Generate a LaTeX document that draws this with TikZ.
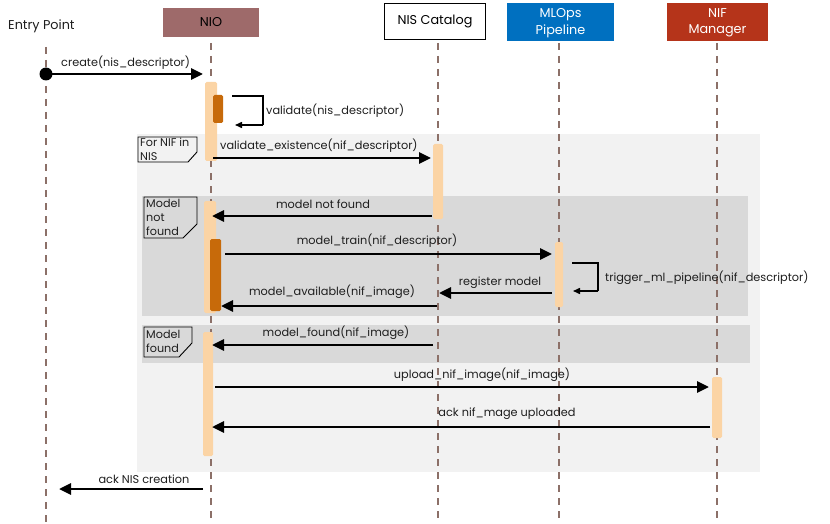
\documentclass[tikz,border=0pt]{standalone}
\usepackage{fontspec}
\setmainfont{Poppins}
\usetikzlibrary{arrows.meta}
\definecolor{nio}{RGB}{158,106,106}
\definecolor{mlops}{RGB}{0,112,192}
\definecolor{nif}{RGB}{181,52,26}
\definecolor{life}{RGB}{140,112,104}
\definecolor{actl}{RGB}{251,212,165}
\definecolor{actd}{RGB}{199,106,10}
\definecolor{loopbg}{RGB}{242,242,242}
\definecolor{altbg}{RGB}{217,217,217}
\definecolor{txt}{RGB}{30,30,30}
\tikzset{
  lifeline/.style={draw=life, line width=1.4pt, dash pattern=on 7pt off 6pt},
  head/.style={minimum height=29pt, inner sep=0pt, font=\fontsize{12.8}{16.5}\selectfont, align=center},
  actlight/.style={fill=actl, rounded corners=1.5pt},
  actdark/.style={fill=actd, rounded corners=1.5pt},
  msg/.style={draw=black, line width=2.8pt, -{Triangle[length=12pt,width=11pt]}},
  selfmsg/.style={draw=black, line width=1.5pt, -{Triangle[length=7pt,width=6pt]}},
  lbl/.style={font=\fontsize{11.3}{13}\selectfont, text=txt, inner sep=0pt},
  framelbl/.style={font=\fontsize{11.2}{14}\selectfont, text=txt, align=left, inner sep=0pt, anchor=north west},
  framebox/.style={draw=black, line width=0.9pt}
}
\begin{document}
\begin{tikzpicture}[x=1pt,y=-1pt]
\useasboundingbox (0,0) rectangle (830,524);
% frames backgrounds
\fill[loopbg] (137,134) rectangle (760,472);
\fill[altbg] (142,196) rectangle (748,316);
\fill[altbg] (142,325) rectangle (750,363);
% heads
\node[lbl, anchor=west, font=\fontsize{12.8}{15}\selectfont] (ep) at (8,26) {Entry Point};
\node[head, fill=nio, minimum width=96pt, minimum height=29pt] (nio) at (211,22.5) {NIO};
\node[head, draw=black, line width=1.6pt, fill=white, minimum width=101pt, minimum height=36pt] (cat) at (435,21.5) {NIS Catalog};
\node[head, fill=mlops, text=white, minimum width=107pt, minimum height=37pt] (ml) at (560.5,23) {MLOps\\Pipeline};
\path[fill=mlops] (507,3) rectangle (614,6);
\node[head, fill=nif, text=white, minimum width=101pt, minimum height=37pt] (nifm) at (717.5,23) {NIF\\Manager};
\path[fill=nif] (667,3) rectangle (768,6);
% lifelines
\draw[lifeline] (46,47) -- (46,524);
\draw[lifeline] (211,43) -- (211,524);
\draw[lifeline] (438,43) -- (438,524);
\draw[lifeline] (559,43) -- (559,524);
\draw[lifeline] (717,43) -- (717,524);
% frame labels
\draw[framebox] (138,137) -- (197,137) -- (197,152) -- (188,162) -- (138,162) -- cycle;
\node[framelbl] (f1) at (140,138) {For NIF in\\NIS};
\draw[framebox] (144,197) -- (197,197) -- (197,224) -- (183,238) -- (144,238) -- cycle;
\node[framelbl] (f2) at (146,199.5) {Model\\not\\found};
\draw[framebox] (144,327) -- (192,327) -- (192,343) -- (179,357) -- (144,357) -- cycle;
\node[framelbl] (f3) at (146,330) {Model\\found};
% activation bars
\fill[actlight] (205,82) rectangle (217,161);
\fill[actdark] (213,95) rectangle (223,123);
\fill[actlight] (433,144) rectangle (443,219);
\fill[actlight] (204,201) rectangle (216,313);
\fill[actdark] (210,239) rectangle (221,311);
\fill[actlight] (555,242) rectangle (563,307);
\fill[actlight] (203,332) rectangle (213,456);
\fill[actlight] (712,377) rectangle (722,438);
% message endpoints
\fill[black] (46,74) circle (6.5pt);
\coordinate (c1a) at (46,74); \coordinate (c1b) at (203,74);
\coordinate (s1a) at (232,96); \coordinate (s1b) at (263,96); \coordinate (s1c) at (263,125); \coordinate (s1d) at (235,125);
\coordinate (m2a) at (213,158); \coordinate (m2b) at (431,158);
\coordinate (m3a) at (432,216); \coordinate (m3b) at (212,216);
\coordinate (m4a) at (225,254); \coordinate (m4b) at (552,254);
\coordinate (s2a) at (572,263); \coordinate (s2b) at (598,263); \coordinate (s2c) at (598,291); \coordinate (s2d) at (573,291);
\coordinate (m5a) at (552,293); \coordinate (m5b) at (439,293);
\coordinate (m6a) at (437,306); \coordinate (m6b) at (221,306);
\coordinate (m7a) at (433,345); \coordinate (m7b) at (212,345);
\coordinate (m8a) at (215,387); \coordinate (m8b) at (709,387);
\coordinate (m9a) at (710,427); \coordinate (m9b) at (212,427);
\coordinate (m10a) at (203,489); \coordinate (m10b) at (59,489);
% messages
\draw[msg] (c1a) -- (c1b);
\node[lbl, anchor=west] (l1) at (61,63) {create(nis\_descriptor)};
\draw[selfmsg, -] (s1a) -- (s1b) -- (s1c);
\draw[selfmsg] (s1c) -- (s1d);
\node[lbl, anchor=west] (ls1) at (266,111) {validate(nis\_descriptor)};
\draw[msg] (m2a) -- (m2b);
\node[lbl, anchor=west] (l2) at (220,146) {validate\_existence(nif\_descriptor)};
\draw[msg] (m3a) -- (m3b);
\node[lbl] (l3) at (323,204) {model not found};
\draw[msg] (m4a) -- (m4b);
\node[lbl] (l4) at (377,241) {model\_train(nif\_descriptor)};
\draw[selfmsg, -] (s2a) -- (s2b) -- (s2c);
\draw[selfmsg] (s2c) -- (s2d);
\node[lbl, anchor=west] (ls2) at (605,278) {trigger\_ml\_pipeline(nif\_descriptor)};
\draw[msg] (m5a) -- (m5b);
\node[lbl] (l5) at (500,283) {register model};
\draw[msg] (m6a) -- (m6b);
\node[lbl] (l6) at (332,292) {model\_available(nif\_image)};
\draw[msg] (m7a) -- (m7b);
\node[lbl] (l7) at (336,333) {model\_found(nif\_image)};
\draw[msg] (m8a) -- (m8b);
\node[lbl] (l8) at (482,375) {upload\_nif\_image(nif\_image)};
\draw[msg] (m9a) -- (m9b);
\node[lbl] (l9) at (507,414) {ack nif\_mage uploaded};
\draw[msg] (m10a) -- (m10b);
\node[lbl] (l10) at (144,479) {ack NIS creation};
\end{tikzpicture}
\end{document}
